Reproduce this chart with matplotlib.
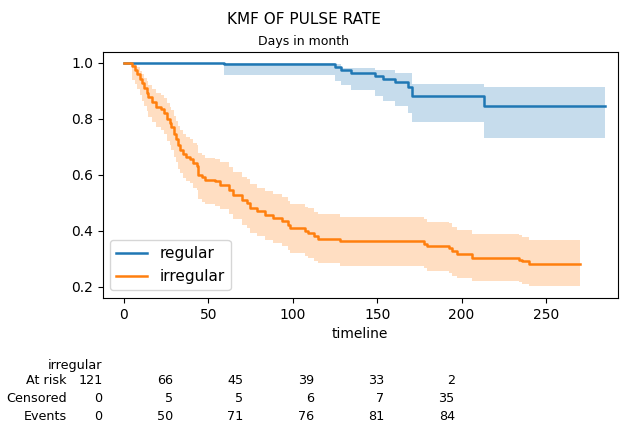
import matplotlib
matplotlib.use('Agg')
import matplotlib.pyplot as plt
import matplotlib.transforms as mtransforms

# Kaplan-Meier estimates (step times, survival, 95% CI)
t_regular = [0, 59, 125, 128.4, 134.3, 148.7, 153.6, 160.5, 168.4, 170.4, 213.5, 285]
s_regular = [1.0, 0.995, 0.983, 0.975, 0.963, 0.954, 0.943, 0.931, 0.915, 0.88, 0.846, 0.846]
lo_regular = [1.0, 0.957, 0.933, 0.921, 0.904, 0.88, 0.862, 0.844, 0.82, 0.79, 0.731, 0.731]
hi_regular = [1.0, 1.0, 0.997, 0.981, 0.981, 0.975, 0.975, 0.963, 0.963, 0.924, 0.915, 0.915]

t_irregular = [0, 4.5, 6.5, 8, 9.5, 10.5, 12, 13.5, 14.5, 16.5,
               19, 22, 23.5, 25.5, 27, 28, 29.5, 31, 32, 33.5,
               35, 37, 39, 41, 43, 44, 46, 48, 54, 57,
               62, 64.8, 70, 72.8, 74.7, 78.7, 83.6, 88.6, 93.5, 97,
               98.5, 107.4, 109.3, 112.3, 115.2, 128, 177.5, 179.5, 192.4, 194.4,
               197.3, 206.2, 233.9, 235.9, 239.8, 270]
s_irregular = [1.0, 0.988, 0.975, 0.959, 0.942, 0.926, 0.909, 0.893, 0.876, 0.86,
               0.843, 0.835, 0.82, 0.80, 0.785, 0.77, 0.745, 0.728, 0.705, 0.69,
               0.673, 0.662, 0.655, 0.64, 0.63, 0.60, 0.59, 0.582, 0.576, 0.564,
               0.546, 0.529, 0.51, 0.499, 0.481, 0.469, 0.457, 0.445, 0.433, 0.42,
               0.41, 0.398, 0.392, 0.38, 0.37, 0.362, 0.352, 0.344, 0.338, 0.326,
               0.317, 0.302, 0.296, 0.29, 0.281, 0.281]
lo_irregular = [1.0, 0.94, 0.925, 0.905, 0.885, 0.865, 0.845, 0.826, 0.806, 0.788,
                0.77, 0.76, 0.745, 0.722, 0.706, 0.69, 0.664, 0.646, 0.622, 0.606,
                0.588, 0.577, 0.57, 0.554, 0.544, 0.513, 0.503, 0.495, 0.488, 0.476,
                0.458, 0.44, 0.421, 0.41, 0.392, 0.38, 0.368, 0.356, 0.344, 0.331,
                0.322, 0.31, 0.304, 0.292, 0.283, 0.275, 0.265, 0.257, 0.25, 0.239,
                0.231, 0.222, 0.216, 0.21, 0.201, 0.201]
hi_irregular = [1.0, 0.998, 0.993, 0.984, 0.972, 0.96, 0.947, 0.934, 0.92, 0.907,
                0.893, 0.886, 0.873, 0.856, 0.843, 0.83, 0.808, 0.793, 0.773, 0.76,
                0.745, 0.735, 0.729, 0.715, 0.706, 0.678, 0.669, 0.661, 0.655, 0.644,
                0.627, 0.611, 0.593, 0.583, 0.566, 0.554, 0.543, 0.531, 0.519, 0.507,
                0.497, 0.486, 0.48, 0.468, 0.458, 0.45, 0.44, 0.432, 0.426, 0.414,
                0.404, 0.389, 0.383, 0.377, 0.365, 0.365]

# at-risk table (irregular group)
table_ticks = [0, 50, 100, 150, 200, 250]
at_risk = [121, 66, 45, 39, 33, 2]
censored = [0, 5, 5, 6, 7, 35]
events = [0, 50, 71, 76, 81, 84]
row_names = ['At risk', 'Censored', 'Events']

fig = plt.figure(figsize=(6.26, 4.28), dpi=100)
ax = fig.add_axes([0.164, 0.304, 0.823, 0.575])

ax.fill_between(t_regular, lo_regular, hi_regular, step='post', color='tab:blue', alpha=0.25, linewidth=0)
ax.plot(t_regular, s_regular, drawstyle='steps-post', color='tab:blue', lw=1.8, label='regular')
ax.fill_between(t_irregular, lo_irregular, hi_irregular, step='post', color='tab:orange', alpha=0.25, linewidth=0)
ax.plot(t_irregular, s_irregular, drawstyle='steps-post', color='tab:orange', lw=1.8, label='irregular')

ax.set_xlim(-12.6, 292.6)
ax.set_ylim(0.16, 1.039)
ax.set_xticks([0, 50, 100, 150, 200, 250])
ax.set_yticks([0.2, 0.4, 0.6, 0.8, 1.0])
ax.set_xlabel('timeline')
ax.legend(loc='lower left', fontsize=11)

fig.text(304 / 626, 1 - 20 / 428, 'KMF OF PULSE RATE', ha='center', va='center', fontsize=11)
fig.text(304 / 626, 1 - 41.5 / 428, 'Days in month', ha='center', va='center', fontsize=9)

# invisible axis used to lay out the at-risk counts
ax2 = fig.add_axes([0.164, 0.304, 0.823, 0.575], frameon=False)
ax2.set_xlim(0, 365.8)
ax2.set_ylim(0, 1)
ax2.set_xticks([])
ax2.set_yticks([])
trans = mtransforms.blended_transform_factory(ax2.transData, fig.transFigure)
row_y = [1 - 381 / 428, 1 - 399 / 428, 1 - 417 / 428]

ax2.text(0, 1 - 365 / 428, 'irregular', ha='right', va='center', transform=trans, fontsize=9.2)
for name, y in zip(row_names, row_y):
    ax2.text(-25.6, y, name, ha='right', va='center', transform=trans, fontsize=9.2)
for i, tk in enumerate(table_ticks):
    for val, y in zip([at_risk[i], censored[i], events[i]], row_y):
        ax2.text(tk, y, str(val), ha='right', va='center', transform=trans, fontsize=9.2)

fig.savefig('out.png', dpi=100)
